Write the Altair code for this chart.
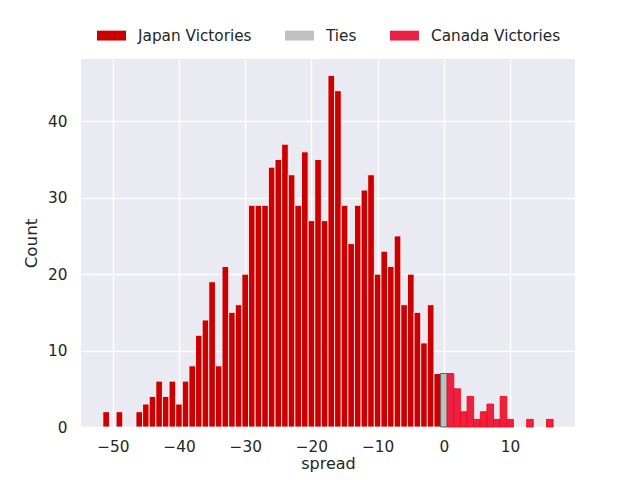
import altair as alt
import pandas as pd

# Spread values (integer) and bar counts
spreads = [-51, -49, -46, -45, -44, -43, -42, -41, -40, -39, -38, -37, -36, -35,
           -34, -33, -32, -31, -30, -29, -28, -27, -26, -25, -24, -23, -22, -21,
           -20, -19, -18, -17, -16, -15, -14, -13, -12, -11, -10, -9, -8, -7,
           -6, -5, -4, -3, -2, -1, 0, 1, 2, 3, 4, 5, 6, 7, 8, 9, 10, 13, 16]
counts = [2, 2, 2, 3, 4, 6, 4, 6, 3, 6, 8, 12, 14, 19,
          8, 21, 15, 16, 20, 29, 29, 29, 34, 35, 37, 33, 29, 36,
          27, 35, 27, 46, 44, 29, 24, 29, 31, 33, 20, 23, 21, 25,
          16, 20, 15, 11, 16, 7, 7, 7, 5, 2, 4, 1, 2, 3, 1, 4, 1, 1, 1]

categories = ["Japan Victories", "Ties", "Canada Victories"]
fill_colors = ["#cc0000", "#c0c0c0", "#eb2045"]
edge_colors = ["#ffffff", "#404040", "#ff0000"]
x_ticks = [-50, -40, -30, -20, -10, 0, 10]
y_ticks = [0, 10, 20, 30, 40]


def outcome(s):
    if s < 0:
        return categories[0]
    if s == 0:
        return categories[1]
    return categories[2]


df = pd.DataFrame({"spread": spreads, "count": counts})
df["outcome"] = df["spread"].map(outcome)
df["edge"] = df["outcome"].map(dict(zip(categories, edge_colors)))

font = "DejaVu Sans"
text_color = "#262626"

legend = alt.Legend(
    title=None,
    orient="none",
    legendX=16,
    legendY=-38,
    direction="horizontal",
    symbolType="M-1,-0.34H1V0.34H-1Z",
    symbolSize=841,
    symbolStrokeWidth=0,
    labelFont=font,
    labelFontSize=15.3,
    labelColor=text_color,
    labelOffset=12,
    columnPadding=33,
    padding=0,
)

chart = (
    alt.Chart(df)
    .transform_calculate(lo="datum.spread - 0.5", hi="datum.spread + 0.5")
    .mark_bar(strokeWidth=0.8)
    .encode(
        x=alt.X(
            "lo:Q",
            scale=alt.Scale(domain=[-54.8, 19.8], nice=False, zero=False),
            axis=alt.Axis(values=x_ticks, title="spread", format="d"),
        ),
        x2="hi:Q",
        y=alt.Y(
            "count:Q",
            scale=alt.Scale(domain=[0, 48.15], nice=False),
            axis=alt.Axis(values=y_ticks, title="Count"),
        ),
        y2=alt.datum(0),
        color=alt.Color(
            "outcome:N",
            scale=alt.Scale(domain=categories, range=fill_colors),
            legend=legend,
        ),
        stroke=alt.Stroke("edge:N", scale=None),
    )
    .properties(
        width=494,
        height=368,
        autosize=alt.AutoSizeParams(type="none"),
        padding={"left": 73, "top": 51, "right": 57, "bottom": 45},
    )
    .configure_view(fill="#eaeaf2", stroke=None)
    .configure_axis(
        domain=False,
        ticks=False,
        tickSize=0,
        grid=True,
        gridColor="#ffffff",
        gridWidth=1.4,
        labelFont=font,
        labelFontSize=15.3,
        labelColor=text_color,
        labelPadding=14,
        titleFont=font,
        titleFontSize=16.7,
        titleFontWeight="normal",
        titleColor=text_color,
    )
    .configure_axisX(labelPadding=12, titlePadding=1, titleFontSize=16)
    .configure_axisY(titlePadding=7)
)

chart.save("out.html", embed_options={"renderer": "svg", "actions": False})
